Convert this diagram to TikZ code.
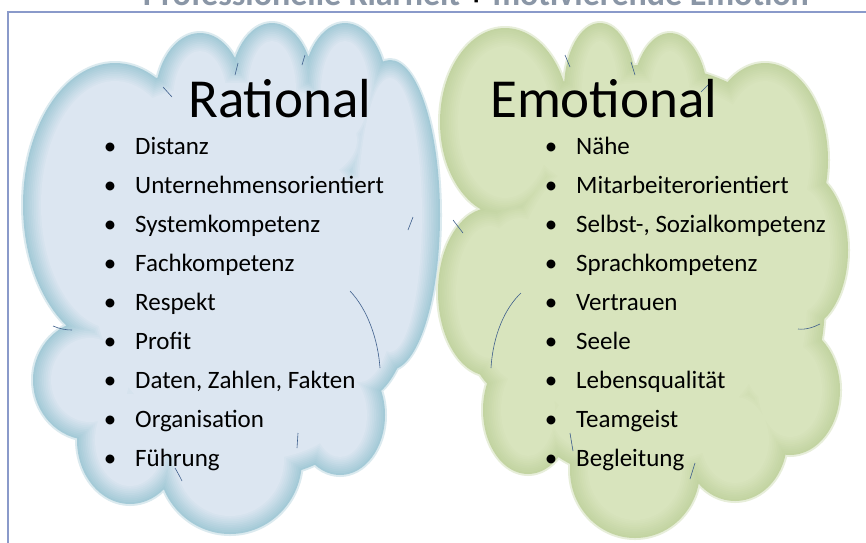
\documentclass[tikz,border=0pt]{standalone}
\usepackage{fontspec}
\setmainfont{Carlito}
\definecolor{bluedge}{HTML}{A4CAD7}
\definecolor{bluein}{HTML}{DCE6F1}
\definecolor{grnedge}{HTML}{C3D4A2}
\definecolor{grnin}{HTML}{D8E4BD}
\definecolor{framecol}{HTML}{8A9ACA}
\definecolor{titlecol}{HTML}{8A96A6}
\definecolor{arccol}{HTML}{3F5F8C}
\tikzset{
  item/.style={anchor=base west, font=\fontsize{25}{28}\selectfont, inner sep=0pt},
  bul/.style={anchor=base, font=\fontsize{25}{28}\selectfont, inner sep=0pt},
  head/.style={anchor=base west, font=\fontsize{55}{60}\selectfont, inner sep=0pt},
  inarc/.style={draw=arccol, line width=0.6pt}
}
\def\leftpuffs{115/205/92/142, 200/100/45/67, 272/90/42/67, 345/90/42/67, 390/215/50/155, 340/415/45/60, 230/460/72/74, 130/440/53/64, 90/380/57/60, 235/140/140/75, 140/300/60/100, 360/280/55/120, 235/420/120/60, 235/280/160/180}
\def\rightpuffs{505/122/65/94, 600/90/36/67, 670/100/38/67, 765/160/63/97, 800/250/48/80, 790/390/50/65, 735/440/52/61, 635/470/65/68, 528/410/45/64, 490/292/52/84, 645/140/130/75, 520/300/60/100, 770/300/55/120, 645/420/110/60, 645/290/150/170}
\begin{document}
\begin{tikzpicture}[x=1pt,y=-1pt]
\useasboundingbox (0,0) rectangle (866,542);
\clip (0,0) rectangle (866,542);
\fill[white] (0,0) rectangle (866,542);
% title (cut off at top, as in the reference)
\node[anchor=base, inner sep=0pt, font=\fontsize{34}{36}\selectfont\bfseries, text=titlecol] (title) at (476,5)
  {Professionelle Klarheit \textcolor{black}{+} motivierende Emotion};
% frame
\draw[framecol, line width=1.5pt] (8,560) -- (8,12) -- (880,12);
% left cloud (soft-edged union of puffs)
\fill[bluedge!40!white] foreach \x/\y/\a/\b in \leftpuffs { (\x,\y) ellipse [x radius=\a+2, y radius=\b+2] };
\foreach \i in {0,...,12}{
  \pgfmathsetmacro\d{1.8*\i}
  \pgfmathsetmacro\m{min(100,\i*10)}
  \fill[bluein!\m!bluedge] foreach \x/\y/\a/\b in \leftpuffs { (\x,\y) ellipse [x radius=\a-\d, y radius=\b-\d] };
}
% right cloud
\fill[grnedge!40!white] foreach \x/\y/\a/\b in \rightpuffs { (\x,\y) ellipse [x radius=\a+2, y radius=\b+2] };
\foreach \i in {0,...,12}{
  \pgfmathsetmacro\d{1.8*\i}
  \pgfmathsetmacro\m{min(100,\i*10)}
  \fill[grnin!\m!grnedge] foreach \x/\y/\a/\b in \rightpuffs { (\x,\y) ellipse [x radius=\a-\d, y radius=\b-\d] };
}
% inner arcs left
\draw[inarc] (350,291) .. controls (368,310) and (378,340) .. (380,368);
\draw[inarc] (163,87) -- (172,97);
\draw[inarc] (238,63) -- (235,75);
\draw[inarc] (305,55) -- (302,65);
\draw[inarc] (413,217) -- (408,230);
\draw[inarc] (53,326) .. controls (60,329) and (66,330) .. (72,330);
\draw[inarc] (298,433) -- (297,448);
\draw[inarc] (175,468) .. controls (178,473) and (180,477) .. (182,481);
% inner arcs right
\draw[inarc] (521,293) .. controls (505,308) and (493,335) .. (491,368);
\draw[inarc] (453,220) -- (463,233);
\draw[inarc] (565,55) -- (570,67);
\draw[inarc] (631,62) -- (635,75);
\draw[inarc] (711,82) -- (701,92);
\draw[inarc] (798,329) .. controls (806,330) and (814,327) .. (820,324);
\draw[inarc] (570,433) -- (573,451);
\draw[inarc] (695,463) -- (690,479);
% headings
\node[head] (rat) at (188,117) {Rational};
\node[head] (emo) at (490,117) {Emotional};
% left list
\foreach \t [count=\k] in {Distanz,Unternehmensorientiert,Systemkompetenz,Fachkompetenz,Respekt,Profit,{Daten, Zahlen, Fakten},Organisation,Führung}{
  \node[bul] (lb\k) at (110,{154+(\k-1)*39.1}) {•};
  \node[item] (li\k) at (135,{154+(\k-1)*39.1}) {\t};
}
% right list
\foreach \t [count=\k] in {Nähe,Mitarbeiterorientiert,{Selbst-, Sozialkompetenz},Sprachkompetenz,Vertrauen,Seele,Lebensqualität,Teamgeist,Begleitung}{
  \node[bul] (rb\k) at (551,{154+(\k-1)*39.1}) {•};
  \node[item] (ri\k) at (576,{154+(\k-1)*39.1}) {\t};
}
\end{tikzpicture}
\end{document}
